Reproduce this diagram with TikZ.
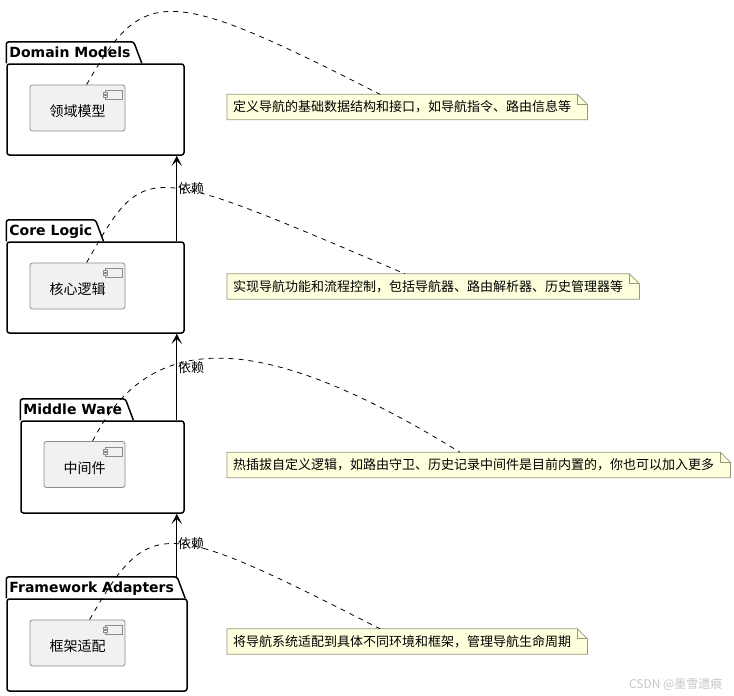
\documentclass[tikz,border=0pt]{standalone}
\usepackage{fontspec}
\usepackage{tikz}
\usetikzlibrary{arrows.meta,backgrounds}
\newfontfamily\cjk{Noto Sans CJK SC}
\newfontfamily\puml{DejaVu Sans}
\definecolor{notefill}{RGB}{254,255,221}
\definecolor{noteline}{RGB}{150,150,120}
\definecolor{compfill}{RGB}{241,241,241}
\definecolor{compline}{RGB}{140,140,140}
% tab of a package, drawn from its title node
\newcommand{\pkgtab}[1]{%
	\draw[pkgline] (#1.south west) -- (#1.north west) -- (#1.north east) -- ([xshift=8pt]#1.south east);}
% small component icon in the top right corner
\newcommand{\compicon}[1]{%
	\draw[draw=compline,fill=compfill,line width=0.6pt] ([xshift=-20pt,yshift=-6pt]#1.north east) rectangle ([xshift=-3pt,yshift=-15pt]#1.north east);
	\draw[draw=compline,fill=compfill,line width=0.6pt] ([xshift=-22pt,yshift=-8pt]#1.north east) rectangle ([xshift=-18pt,yshift=-10pt]#1.north east);
	\draw[draw=compline,fill=compfill,line width=0.6pt] ([xshift=-22pt,yshift=-11pt]#1.north east) rectangle ([xshift=-18pt,yshift=-13pt]#1.north east);}
% note with folded corner
\newcommand{\foldnote}[1]{%
	\draw[notebox] (#1.south west) -- (#1.north west) -- (#1.north east) -- ([xshift=10pt,yshift=-10pt]#1.north east) -- ([xshift=10pt]#1.south east) -- cycle;
	\draw[notebox,fill=none] (#1.north east) |- ([xshift=10pt,yshift=-10pt]#1.north east);}

\begin{document}
\begin{tikzpicture}[x=1pt,y=1pt,
		pkgline/.style={draw=black,line width=1.5pt,rounded corners=2.5pt},
		pkgbody/.style={pkgline,inner sep=0pt},
		pkgtitle/.style={anchor=south west,inner xsep=3pt,inner ysep=2pt,text height=13pt,text depth=4pt,font=\puml\bfseries\fontsize{14}{16}\selectfont},
		comp/.style={draw=compline,fill=compfill,line width=0.8pt,rounded corners=2.5pt,minimum height=46pt,inner sep=0pt,text height=20pt,text depth=3pt,font=\cjk\fontsize{14}{16}\selectfont},
		note/.style={anchor=west,minimum height=25pt,inner xsep=6pt,inner ysep=0pt,font=\cjk\fontsize{13}{15}\selectfont},
		notebox/.style={draw=noteline,fill=notefill,line width=0.8pt},
		dep/.style={-{Stealth[length=10pt,width=10pt,inset=5pt]},line width=0.8pt},
		deplabel/.style={anchor=west,inner sep=1pt,font=\cjk\fontsize{13}{15}\selectfont},
		notelink/.style={line width=0.8pt,dash pattern=on 5pt off 5pt}]
		\useasboundingbox (0,0) rectangle (734,-696);
		% Packages
		\node[pkgbody,minimum width=177pt,minimum height=91pt] (dm) at (95.5,-109.5) {};
		\node[pkgtitle] (dmt) at (dm.north west) {Domain Models};
		\pkgtab{dmt}
		\node[pkgbody,minimum width=177pt,minimum height=91pt] (cl) at (95.5,-287.5) {};
		\node[pkgtitle] (clt) at (cl.north west) {Core Logic};
		\pkgtab{clt}
		\node[pkgbody,minimum width=163pt,minimum height=92pt] (mw) at (102.5,-467) {};
		\node[pkgtitle] (mwt) at (mw.north west) {Middle Ware};
		\pkgtab{mwt}
		\node[pkgbody,minimum width=180pt,minimum height=92pt] (fa) at (97,-645) {};
		\node[pkgtitle] (fat) at (fa.north west) {Framework Adapters};
		\pkgtab{fat}
		% Components
		\node[comp,minimum width=95pt] (dmc) at (77.5,-108) {领域模型};
		\compicon{dmc}
		\node[comp,minimum width=95pt] (clc) at (77.5,-286) {核心逻辑};
		\compicon{clc}
		\node[comp,minimum width=81pt] (mwc) at (84.5,-464.5) {中间件};
		\compicon{mwc}
		\node[comp,minimum width=95pt] (fac) at (77.5,-643) {框架适配};
		\compicon{fac}
		% Notes
		\node[note] (n1) at (227,-107) {定义导航的基础数据结构和接口，如导航指令、路由信息等};
		\node[note] (n2) at (227,-286.5) {实现导航功能和流程控制，包括导航器、路由解析器、历史管理器等};
		\node[note] (n3) at (227,-465) {热插拔自定义逻辑，如路由守卫、历史记录中间件是目前内置的，你也可以加入更多};
		\node[note] (n4) at (227,-641.5) {将导航系统适配到具体不同环境和框架，管理导航生命周期};
		\begin{scope}[on background layer]
			\foldnote{n1}
			\foldnote{n2}
			\foldnote{n3}
			\foldnote{n4}
		\end{scope}
		% Dependencies
		\coordinate (mwarr) at ([xshift=-8pt]mw.south east);
		\draw[dep] ([xshift=-8pt]cl.north east) -- node[deplabel,pos=0.62]{依赖} ([xshift=-8pt]dm.south east);
		\draw[dep] ([xshift=-8pt]mw.north east) -- node[deplabel,pos=0.61]{依赖} ([xshift=-8pt]cl.south east);
		\draw[dep] (mwarr |- fat.north) -- node[deplabel,pos=0.52]{依赖} (mwarr);
		% Note links
		\draw[notelink] ([xshift=57pt]dmc.north west) .. controls +(57,99) and +(-214,109) .. ([xshift=153pt]n1.north west);
		\draw[notelink] ([xshift=57pt]clc.north west) .. controls +(59,103) and +(-264,112) .. ([xshift=178pt]n2.north west);
		\draw[notelink] ([xshift=49pt]mwc.north west) .. controls +(57,112.5) and +(-200,123.5) .. ([xshift=233pt]n3.north west);
		\draw[notelink] ([xshift=60pt]fac.north west) .. controls +(60,104) and +(-218,111) .. ([xshift=153pt]n4.north west);
		%\node watermark
		\node[anchor=east,text=gray!45,font=\cjk\fontsize{12}{14}\selectfont] (wm) at (726,-684) {CSDN @墨雪遗痕};
	\end{tikzpicture}
\end{document}
